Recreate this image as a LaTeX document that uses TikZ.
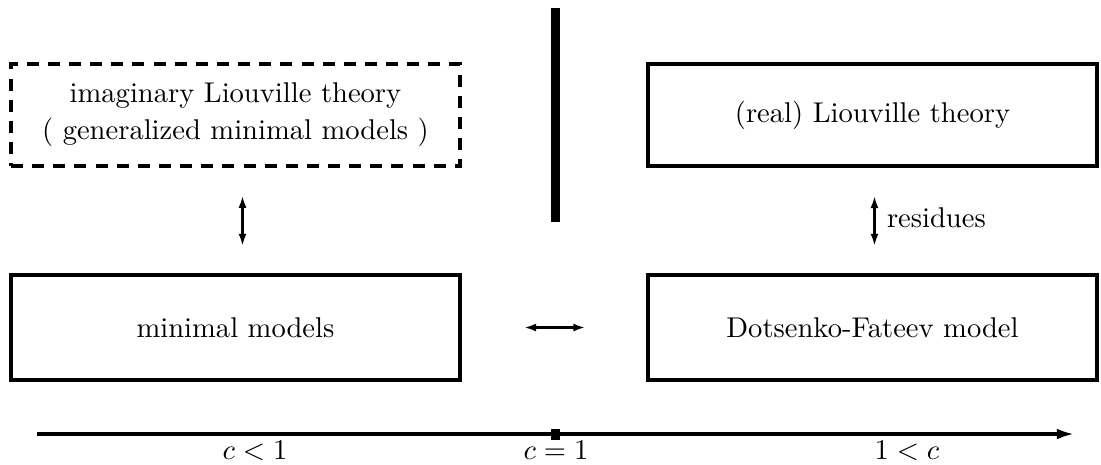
\documentclass[tikz,border=0pt]{standalone}
\usetikzlibrary{arrows.meta}
\begin{document}
\begin{tikzpicture}[x=0.35pt,y=-0.35pt,
  boxnode/.style={draw,line width=1.4pt,rectangle,inner sep=0pt,minimum width=157.2pt,minimum height=36.8pt,align=center,font=\fontsize{10}{13}\selectfont},
  dashbox/.style={boxnode,dash pattern=on 4.2pt off 3.2pt,line width=1.3pt},
  smallarrow/.style={{Latex[length=4.2pt,width=2.8pt]}-{Latex[length=4.2pt,width=2.8pt]},line width=0.75pt},
  axisline/.style={-{Latex[length=6pt,width=3.8pt]},line width=1.1pt},
  lab/.style={anchor=base,inner sep=0pt,font=\fontsize{10}{12}\selectfont}]
\useasboundingbox (0,0) rectangle (1101,464);
% boxes
\node[dashbox,minimum height=35.7pt] (imag) at (235.5,115) {imaginary Liouville theory\\( generalized minimal models )};
\node[boxnode,minimum height=35.7pt] (real) at (872.5,115) {(real) Liouville theory};
\node[boxnode] (minm) at (235.5,327.5) {minimal models};
\node[boxnode] (dfm) at (872.5,327.5) {Dotsenko-Fateev model};
% connectors
\draw[smallarrow,shorten <=9.8pt,shorten >=9.5pt] ([xshift=2.45pt]imag.south) -- ([xshift=2.45pt]minm.north);
\draw[smallarrow,shorten <=9.8pt,shorten >=9.5pt] ([xshift=0.7pt]real.south) -- node[right,inner sep=3pt,font=\fontsize{10}{12}\selectfont,yshift=1pt,xshift=1pt] (res) {residues} ([xshift=0.7pt]dfm.north);
\draw[smallarrow,line width=1pt,shorten <=21.7pt,shorten >=21.2pt] (minm.east) -- (dfm.west);
% central bar
\coordinate (bartop) at (555.5,8);
\coordinate (barbot) at (555.5,222);
\draw[line width=3.15pt] (bartop) -- (barbot);
% axis
\coordinate (axs) at (37,434);
\coordinate (axe) at (1074,434);
\draw[axisline] (axs) -- (axe);
\fill (551,429) rectangle (560,440);
\node[lab] (cl) at (255,459) {$c<1$};
\node[lab] (ce) at (556,459) {$c=1$};
\node[lab] (cg) at (907,459) {$1<c$};
\end{tikzpicture}
\end{document}
